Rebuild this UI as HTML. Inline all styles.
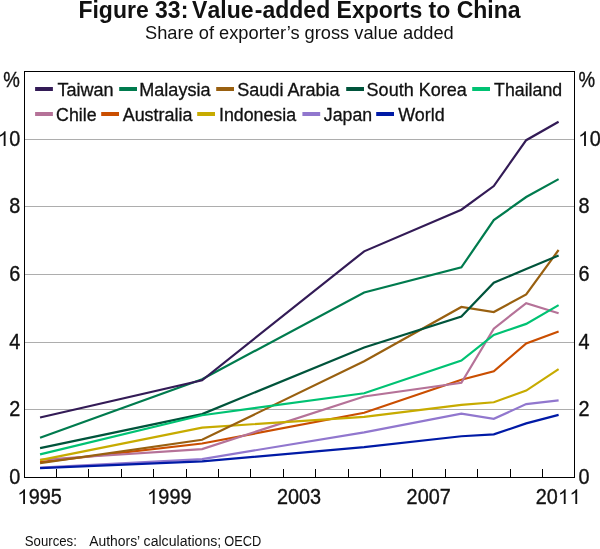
<!DOCTYPE html>
<html><head><meta charset="utf-8"><title>Figure 33</title>
<style>
html,body{margin:0;padding:0;background:#fff;}
body{width:600px;height:549px;overflow:hidden;font-family:"Liberation Sans",sans-serif;}
svg{display:block;will-change:transform;}
text{font-family:"Liberation Sans",sans-serif;fill:#111;}
</style></head><body>
<svg width="600" height="549" viewBox="0 0 600 549">
<rect width="600" height="549" fill="#fff"/>
<text x="299.5" y="17.7" text-anchor="middle" font-size="23" font-weight="bold" fill="#1c1c1c">Figure 33: <tspan dx="-2.6">V</tspan><tspan dx="1.3">alue</tspan><tspan dx="1.3">-added Exports to China</tspan></text>
<text x="299.4" y="38.6" text-anchor="middle" font-size="18.25" fill="#1a1a1a">Share of exporter’s gross value added</text>
<line x1="24.5" x2="574.5" y1="409.50" y2="409.50" stroke="#adadad" stroke-width="1"/>
<line x1="24.5" x2="574.5" y1="342.50" y2="342.50" stroke="#adadad" stroke-width="1"/>
<line x1="24.5" x2="574.5" y1="274.50" y2="274.50" stroke="#adadad" stroke-width="1"/>
<line x1="24.5" x2="574.5" y1="206.50" y2="206.50" stroke="#adadad" stroke-width="1"/>
<line x1="24.5" x2="574.5" y1="139.50" y2="139.50" stroke="#adadad" stroke-width="1"/>
<polyline points="40.05,462.11 202.10,443.50 364.15,412.72 461.38,379.73 493.79,371.27 526.20,343.53 558.61,331.52" fill="none" stroke="#ca4e00" stroke-width="2.2" stroke-linejoin="miter" stroke-linecap="butt"/>
<polyline points="40.05,459.75 202.10,449.09 364.15,396.48 461.38,382.77 493.79,328.64 526.20,303.10 558.61,313.25" fill="none" stroke="#b57298" stroke-width="2.2" stroke-linejoin="miter" stroke-linecap="butt"/>
<polyline points="40.05,460.08 202.10,427.60 364.15,416.78 461.38,404.94 493.79,402.23 526.20,390.56 558.61,369.07" fill="none" stroke="#c7ab00" stroke-width="2.2" stroke-linejoin="miter" stroke-linecap="butt"/>
<polyline points="40.05,467.53 202.10,459.07 364.15,432.34 461.38,413.73 493.79,418.81 526.20,404.09 558.61,400.37" fill="none" stroke="#9177ce" stroke-width="2.2" stroke-linejoin="miter" stroke-linecap="butt"/>
<polyline points="40.05,437.75 202.10,379.22 364.15,292.44 461.38,267.40 493.79,220.04 526.20,197.03 558.61,179.10" fill="none" stroke="#007b4e" stroke-width="2.2" stroke-linejoin="miter" stroke-linecap="butt"/>
<polyline points="40.05,463.13 202.10,439.78 364.15,361.29 461.38,306.99 493.79,312.06 526.20,294.47 558.61,249.98" fill="none" stroke="#996010" stroke-width="2.2" stroke-linejoin="miter" stroke-linecap="butt"/>
<polyline points="40.05,448.07 202.10,414.07 364.15,347.42 461.38,316.46 493.79,282.63 526.20,269.09 558.61,255.39" fill="none" stroke="#00543b" stroke-width="2.2" stroke-linejoin="miter" stroke-linecap="butt"/>
<polyline points="40.05,417.45 202.10,380.24 364.15,251.33 461.38,209.72 493.79,186.03 526.20,140.19 558.61,121.75" fill="none" stroke="#331b56" stroke-width="2.2" stroke-linejoin="miter" stroke-linecap="butt"/>
<polyline points="40.05,454.33 202.10,415.25 364.15,393.26 461.38,360.61 493.79,334.90 526.20,323.90 558.61,305.13" fill="none" stroke="#00c273" stroke-width="2.2" stroke-linejoin="miter" stroke-linecap="butt"/>
<polyline points="40.05,468.20 202.10,461.44 364.15,447.06 461.38,436.23 493.79,434.37 526.20,423.37 558.61,414.92" fill="none" stroke="#001aa6" stroke-width="2.2" stroke-linejoin="miter" stroke-linecap="butt"/>
<line x1="56.50" x2="56.50" y1="469.0" y2="477.5" stroke="#000" stroke-width="1"/>
<line x1="88.50" x2="88.50" y1="469.0" y2="477.5" stroke="#000" stroke-width="1"/>
<line x1="121.50" x2="121.50" y1="469.0" y2="477.5" stroke="#000" stroke-width="1"/>
<line x1="153.50" x2="153.50" y1="469.0" y2="477.5" stroke="#000" stroke-width="1"/>
<line x1="186.50" x2="186.50" y1="469.0" y2="477.5" stroke="#000" stroke-width="1"/>
<line x1="218.50" x2="218.50" y1="469.0" y2="477.5" stroke="#000" stroke-width="1"/>
<line x1="250.50" x2="250.50" y1="469.0" y2="477.5" stroke="#000" stroke-width="1"/>
<line x1="283.50" x2="283.50" y1="469.0" y2="477.5" stroke="#000" stroke-width="1"/>
<line x1="315.50" x2="315.50" y1="469.0" y2="477.5" stroke="#000" stroke-width="1"/>
<line x1="348.50" x2="348.50" y1="469.0" y2="477.5" stroke="#000" stroke-width="1"/>
<line x1="380.50" x2="380.50" y1="469.0" y2="477.5" stroke="#000" stroke-width="1"/>
<line x1="412.50" x2="412.50" y1="469.0" y2="477.5" stroke="#000" stroke-width="1"/>
<line x1="445.50" x2="445.50" y1="469.0" y2="477.5" stroke="#000" stroke-width="1"/>
<line x1="477.50" x2="477.50" y1="469.0" y2="477.5" stroke="#000" stroke-width="1"/>
<line x1="510.50" x2="510.50" y1="469.0" y2="477.5" stroke="#000" stroke-width="1"/>
<line x1="542.50" x2="542.50" y1="469.0" y2="477.5" stroke="#000" stroke-width="1"/>
<rect x="24.5" y="71.5" width="550.0" height="406.0" fill="none" stroke="#000" stroke-width="1"/>
<text transform="translate(9.26,484.10) scale(0.945,1.04)" font-size="21" stroke="#111" stroke-width="0.35">0</text>
<text transform="translate(578.60,484.10) scale(0.945,1.04)" font-size="21" stroke="#111" stroke-width="0.35">0</text>
<text transform="translate(9.26,416.10) scale(0.945,1.04)" font-size="21" stroke="#111" stroke-width="0.35">2</text>
<text transform="translate(578.60,416.10) scale(0.945,1.04)" font-size="21" stroke="#111" stroke-width="0.35">2</text>
<text transform="translate(9.26,349.10) scale(0.945,1.04)" font-size="21" stroke="#111" stroke-width="0.35">4</text>
<text transform="translate(578.60,349.10) scale(0.945,1.04)" font-size="21" stroke="#111" stroke-width="0.35">4</text>
<text transform="translate(9.26,281.10) scale(0.945,1.04)" font-size="21" stroke="#111" stroke-width="0.35">6</text>
<text transform="translate(578.60,281.10) scale(0.945,1.04)" font-size="21" stroke="#111" stroke-width="0.35">6</text>
<text transform="translate(9.26,213.10) scale(0.945,1.04)" font-size="21" stroke="#111" stroke-width="0.35">8</text>
<text transform="translate(578.60,213.10) scale(0.945,1.04)" font-size="21" stroke="#111" stroke-width="0.35">8</text>
<path transform="translate(-2.27,146.10) scale(0.010254,-0.010054)" d="M763 0H583V1147Q518 1085 412.5 1023T223 930V1104Q374 1175 487 1276T647 1472H763V0Z" fill="#111"/>
<text transform="translate(9.26,146.10) scale(0.945,1.04)" font-size="21" stroke="#111" stroke-width="0.35">0</text>
<path transform="translate(578.10,146.10) scale(0.010254,-0.010054)" d="M763 0H583V1147Q518 1085 412.5 1023T223 930V1104Q374 1175 487 1276T647 1472H763V0Z" fill="#111"/>
<text transform="translate(589.64,146.10) scale(0.945,1.04)" font-size="21" stroke="#111" stroke-width="0.35">0</text>
<text transform="translate(3.30,87.00) scale(0.8883,1.04)" font-size="21" stroke="#111" stroke-width="0.35">%</text>
<text transform="translate(578.60,87.00) scale(0.8883,1.04)" font-size="21" stroke="#111" stroke-width="0.35">%</text>
<path transform="translate(17.18,504.00) scale(0.010254,-0.010054)" d="M763 0H583V1147Q518 1085 412.5 1023T223 930V1104Q374 1175 487 1276T647 1472H763V0Z" fill="#111"/>
<text transform="translate(28.71,504.00) scale(0.945,1.04)" font-size="21" stroke="#111" stroke-width="0.35">9</text>
<text transform="translate(39.75,504.00) scale(0.945,1.04)" font-size="21" stroke="#111" stroke-width="0.35">9</text>
<text transform="translate(50.79,504.00) scale(0.945,1.04)" font-size="21" stroke="#111" stroke-width="0.35">5</text>
<path transform="translate(146.82,504.00) scale(0.010254,-0.010054)" d="M763 0H583V1147Q518 1085 412.5 1023T223 930V1104Q374 1175 487 1276T647 1472H763V0Z" fill="#111"/>
<text transform="translate(158.35,504.00) scale(0.945,1.04)" font-size="21" stroke="#111" stroke-width="0.35">9</text>
<text transform="translate(169.39,504.00) scale(0.945,1.04)" font-size="21" stroke="#111" stroke-width="0.35">9</text>
<text transform="translate(180.43,504.00) scale(0.945,1.04)" font-size="21" stroke="#111" stroke-width="0.35">9</text>
<text transform="translate(276.96,504.00) scale(0.945,1.04)" font-size="21" stroke="#111" stroke-width="0.35">2003</text>
<text transform="translate(406.60,504.00) scale(0.945,1.04)" font-size="21" stroke="#111" stroke-width="0.35">2007</text>
<text transform="translate(535.64,504.00) scale(0.945,1.04)" font-size="21" stroke="#111" stroke-width="0.35">2</text>
<text transform="translate(546.77,504.00) scale(0.945,1.04)" font-size="21" stroke="#111" stroke-width="0.35">0</text>
<path transform="translate(557.81,504.00) scale(0.010254,-0.010054)" d="M763 0H583V1147Q518 1085 412.5 1023T223 930V1104Q374 1175 487 1276T647 1472H763V0Z" fill="#111"/>
<path transform="translate(569.35,504.00) scale(0.010254,-0.010054)" d="M763 0H583V1147Q518 1085 412.5 1023T223 930V1104Q374 1175 487 1276T647 1472H763V0Z" fill="#111"/>
<line x1="35.1" x2="52.900000000000006" y1="89.0" y2="89.0" stroke="#331b56" stroke-width="4"/>
<text transform="translate(57.41,95.60) scale(1.0272,1)" font-size="17.6" stroke="#111" stroke-width="0.3">Taiwan</text>
<line x1="119.2" x2="137.0" y1="89.0" y2="89.0" stroke="#007b4e" stroke-width="4"/>
<text transform="translate(139.26,95.60) scale(1.0269,1)" font-size="17.6" stroke="#111" stroke-width="0.3">Malaysia</text>
<line x1="216.2" x2="234.0" y1="89.0" y2="89.0" stroke="#996010" stroke-width="4"/>
<text transform="translate(237.20,95.60) scale(1.0276,1)" font-size="17.6" stroke="#111" stroke-width="0.3">Saudi Arabia</text>
<line x1="346.2" x2="364.0" y1="89.0" y2="89.0" stroke="#00543b" stroke-width="4"/>
<text transform="translate(366.60,95.60) scale(1.0247,1)" font-size="17.6" stroke="#111" stroke-width="0.3">South Korea</text>
<line x1="472.2" x2="490.0" y1="89.0" y2="89.0" stroke="#00c273" stroke-width="4"/>
<text transform="translate(494.12,95.60) scale(1.0076,1)" font-size="17.6" stroke="#111" stroke-width="0.3">Thailand</text>
<line x1="35.1" x2="52.900000000000006" y1="114.0" y2="114.0" stroke="#b57298" stroke-width="4"/>
<text transform="translate(56.12,120.90) scale(1.0104,1)" font-size="17.6" stroke="#111" stroke-width="0.3">Chile</text>
<line x1="101.2" x2="119.0" y1="114.0" y2="114.0" stroke="#ca4e00" stroke-width="4"/>
<text transform="translate(122.67,120.90) scale(1.0194,1)" font-size="17.6" stroke="#111" stroke-width="0.3">Australia</text>
<line x1="197.2" x2="215.0" y1="114.0" y2="114.0" stroke="#c7ab00" stroke-width="4"/>
<text transform="translate(218.96,120.90) scale(1.0114,1)" font-size="17.6" stroke="#111" stroke-width="0.3">Indonesia</text>
<line x1="302.4" x2="320.2" y1="114.0" y2="114.0" stroke="#9177ce" stroke-width="4"/>
<text transform="translate(323.85,120.90) scale(1.0065,1)" font-size="17.6" stroke="#111" stroke-width="0.3">Japan</text>
<line x1="376.2" x2="394.0" y1="114.0" y2="114.0" stroke="#001aa6" stroke-width="4"/>
<text transform="translate(398.17,120.90) scale(1.0186,1)" font-size="17.6" stroke="#111" stroke-width="0.3">World</text>
<text x="24.8" y="545.6" font-size="14" fill="#303030" textLength="52.0" lengthAdjust="spacingAndGlyphs">Sources:</text>
<text x="89.2" y="545.6" font-size="14" fill="#303030" textLength="51.0" lengthAdjust="spacingAndGlyphs">Authors’</text>
<text x="143.6" y="545.6" font-size="14" fill="#303030" textLength="77.6" lengthAdjust="spacingAndGlyphs">calculations;</text>
<text x="224.2" y="545.6" font-size="14" fill="#303030" textLength="37.0" lengthAdjust="spacingAndGlyphs">OECD</text>
</svg></body></html>
